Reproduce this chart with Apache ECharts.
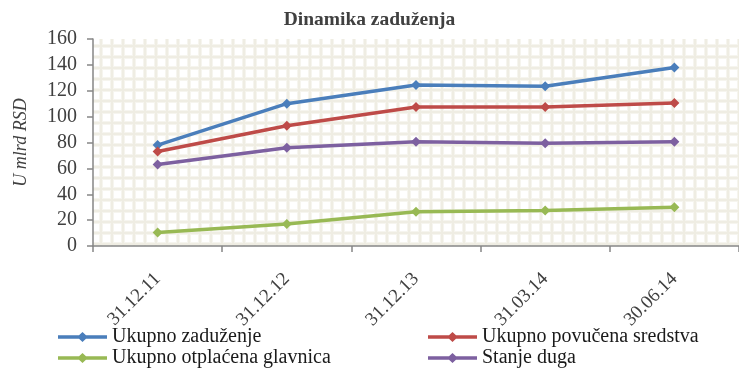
<!DOCTYPE html>
<html>
<head>
<meta charset="utf-8">
<script src="https://cdn.jsdelivr.net/npm/echarts@6/dist/echarts.min.js"></script>
<style>
  html, body { margin: 0; padding: 0; background: #ffffff; }
  #chart { width: 739px; height: 369px; }
</style>
</head>
<body>
<div id="chart"></div>
<script>
// Reporting dates
var categories = ['31.12.11', '31.12.12', '31.12.13', '31.03.14', '30.06.14'];

// Values in billions of RSD
var ukupnoZaduzenje = [78, 110, 124.5, 123.5, 138];
var ukupnoPovucena = [73, 93, 107.5, 107.5, 110.5];
var ukupnoOtplacena = [10.5, 17, 26.5, 27.5, 30];
var stanjeDuga = [63, 76, 80.5, 79.5, 80.5];

var seriesNames = ['Ukupno zaduženje', 'Ukupno povučena sredstva', 'Ukupno otplaćena glavnica', 'Stanje duga'];
var seriesColors = ['#4A7EBB', '#BE4B48', '#98B954', '#7D60A0'];

// Small tiled canvas for the plot-area grid texture
function gridPattern() {
  var c = document.createElement('canvas');
  c.width = 11; c.height = 11;
  var g = c.getContext('2d');
  g.fillStyle = '#ffffff';
  g.fillRect(0, 0, 11, 11);
  g.fillStyle = '#F6F5EF';
  g.fillRect(0, 0, 4, 11);
  g.fillRect(0, 0, 11, 4);
  g.fillStyle = '#EFEDE3';
  g.fillRect(1, 0, 2, 11);
  g.fillRect(0, 1, 11, 2);
  return { image: c, repeat: 'repeat' };
}

var serif = 'Liberation Serif';

// Legend marker: a line with a small diamond at its centre
var legendIcon = 'path://M0,4.2 L21,4.2 L24.5,1 L28,4.2 L49,4.2 L49,7.8 L28,7.8 L24.5,11 L21,7.8 L0,7.8 Z';

function legendColumn(names, left) {
  return {
    data: names,
    orient: 'vertical',
    left: left,
    top: 327,
    itemWidth: 49,
    itemHeight: 11,
    itemGap: 1,
    icon: legendIcon,
    padding: 0,
    textStyle: { fontFamily: serif, fontSize: 20, color: '#1a1a1a' }
  };
}

var chart = echarts.init(document.getElementById('chart'), null, { renderer: 'canvas' });

var dataSets = [ukupnoZaduzenje, ukupnoPovucena, ukupnoOtplacena, stanjeDuga];

chart.setOption({
  animation: false,
  textStyle: { fontFamily: serif },
  title: {
    text: 'Dinamika zaduženja',
    left: 'center',
    top: 5,
    textStyle: { fontFamily: serif, fontSize: 19.5, fontWeight: 'bold', color: '#404040' }
  },
  legend: [
    legendColumn([seriesNames[0], seriesNames[2]], 58),
    legendColumn([seriesNames[1], seriesNames[3]], 428)
  ],
  grid: {
    left: 93,
    top: 39,
    width: 649,
    height: 207,
    show: true,
    borderWidth: 0,
    backgroundColor: gridPattern()
  },
  xAxis: {
    type: 'category',
    data: categories,
    boundaryGap: true,
    axisLine: { lineStyle: { color: '#868686', width: 1.5 } },
    axisTick: { show: true, length: 6, lineStyle: { color: '#868686', width: 1.5 } },
    axisLabel: {
      rotate: 45,
      fontFamily: serif,
      fontSize: 19,
      color: '#404040',
      margin: 30
    },
    splitLine: { show: false }
  },
  yAxis: {
    type: 'value',
    min: 0,
    max: 160,
    interval: 20,
    name: 'U mlrd RSD',
    nameLocation: 'middle',
    nameGap: 63,
    nameRotate: 90,
    nameTextStyle: { fontFamily: serif, fontSize: 18, fontStyle: 'italic', color: '#404040' },
    axisLine: { show: true, lineStyle: { color: '#868686', width: 1.5 } },
    axisTick: { show: true, length: 6, lineStyle: { color: '#868686', width: 1.5 } },
    axisLabel: { fontFamily: serif, fontSize: 20, color: '#404040', margin: 16 },
    splitLine: { show: false }
  },
  series: seriesNames.map(function (name, i) {
    return {
      name: name,
      type: 'line',
      data: dataSets[i],
      symbol: 'diamond',
      symbolSize: 10,
      color: seriesColors[i],
      lineStyle: { width: 3.5, color: seriesColors[i] },
      itemStyle: { color: seriesColors[i] }
    };
  })
});
</script>
</body>
</html>
